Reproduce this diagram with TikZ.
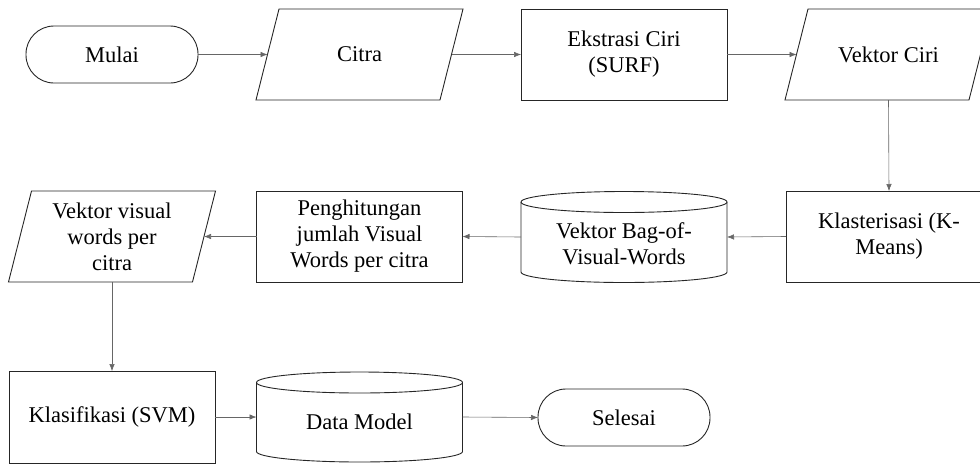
\documentclass[tikz,border=0pt]{standalone}
\usepackage{fontspec}
\setmainfont{Liberation Serif}
\usetikzlibrary{arrows.meta,calc}
\newcommand\drawpara[1]{\draw[boxline] ([xshift=-11.5pt]#1.south west) -- ([xshift=-11.5pt]#1.south east) -- ([xshift=11.5pt]#1.north east) -- ([xshift=11.5pt]#1.north west) -- cycle;}
\newcommand\drawcyl[1]{%
  \draw[boxline] ([yshift=-10.5pt]#1.north west) -- ([yshift=10.5pt]#1.south west)
    arc[start angle=180,end angle=360,x radius=103pt,y radius=10.5pt]
    -- ([yshift=-10.5pt]#1.north east)
    arc[start angle=0,end angle=180,x radius=103pt,y radius=10.5pt] -- cycle;
  \draw[boxline] ([yshift=-10.5pt]#1.north west)
    arc[start angle=180,end angle=360,x radius=103pt,y radius=10.5pt];}
\begin{document}
\begin{tikzpicture}[x=1pt,y=-1pt,
  every node/.style={font=\fontsize{22.5}{26}\selectfont, align=center, inner sep=0pt, outer sep=0pt},
  boxline/.style={draw=black!85, line width=0.9pt},
  procbox/.style={boxline, rectangle, minimum width=206pt, minimum height=91pt},
  termbox/.style={boxline, rectangle, rounded corners=28pt, minimum width=172pt, minimum height=57pt},
  iobox/.style={rectangle, minimum width=184pt, minimum height=91pt},
  dbbox/.style={rectangle, minimum width=206pt, minimum height=91pt},
  flow/.style={draw=black!60, line width=0.6pt, -{Latex[length=7pt,width=5.5pt]}}
]
\useasboundingbox (0,0) rectangle (980,464);
\clip (0,0) rectangle (980,464);

% row 1
\node[termbox] (mulai) at (112,54.5) {Mulai};
\node[iobox] (citra) at (359.5,54.5) {Citra};
\node[procbox] (ekstr) at (624,54.5) {Ekstrasi Ciri\\(SURF)};
\node[iobox] (vciri) at (888.5,54.5) {Vektor Ciri};

% row 2
\node[procbox] (klast) at (889,236.5) {Klasterisasi (K-\\Means)};
\node[dbbox] (bovw) at (624,237) {};
\node[yshift=-7pt] (bovwtxt) at (bovw) {Vektor Bag-of-\\Visual-Words};
\node[procbox] (hitung) at (359.5,236.5) {Penghitungan\\jumlah Visual\\Words per citra};
\node[iobox] (vvis) at (112,236.5) {Vektor visual\\words per\\citra};

% row 3
\node[procbox, minimum height=92pt] (klasif) at (112,417) {Klasifikasi (SVM)};
\node[dbbox, minimum height=90pt] (dmodel) at (359.5,417) {};
\node[yshift=-5pt] (dmodeltxt) at (dmodel) {Data Model};
\node[termbox] (selesai) at (624,417.5) {Selesai};

\drawpara{citra}
\drawpara{vciri}
\drawpara{vvis}
\drawcyl{bovw}
\drawcyl{dmodel}

% connectors
\draw[flow] (mulai.east) -- (citra.west);
\draw[flow] (citra.east) -- (ekstr.west);
\draw[flow] (ekstr.east) -- (vciri.west);
\draw[flow] (vciri.south) -- (klast.north);
\draw[flow] (klast.west) -- (bovw.east);
\draw[flow] (bovw.west) -- (hitung.east);
\draw[flow] (hitung.west) -- (vvis.east);
\draw[flow] (vvis.south) -- (klasif.north);
\draw[flow] (klasif.east) -- (dmodel.west);
\draw[flow] (dmodel.east) -- (selesai.west);
\end{tikzpicture}
\end{document}
